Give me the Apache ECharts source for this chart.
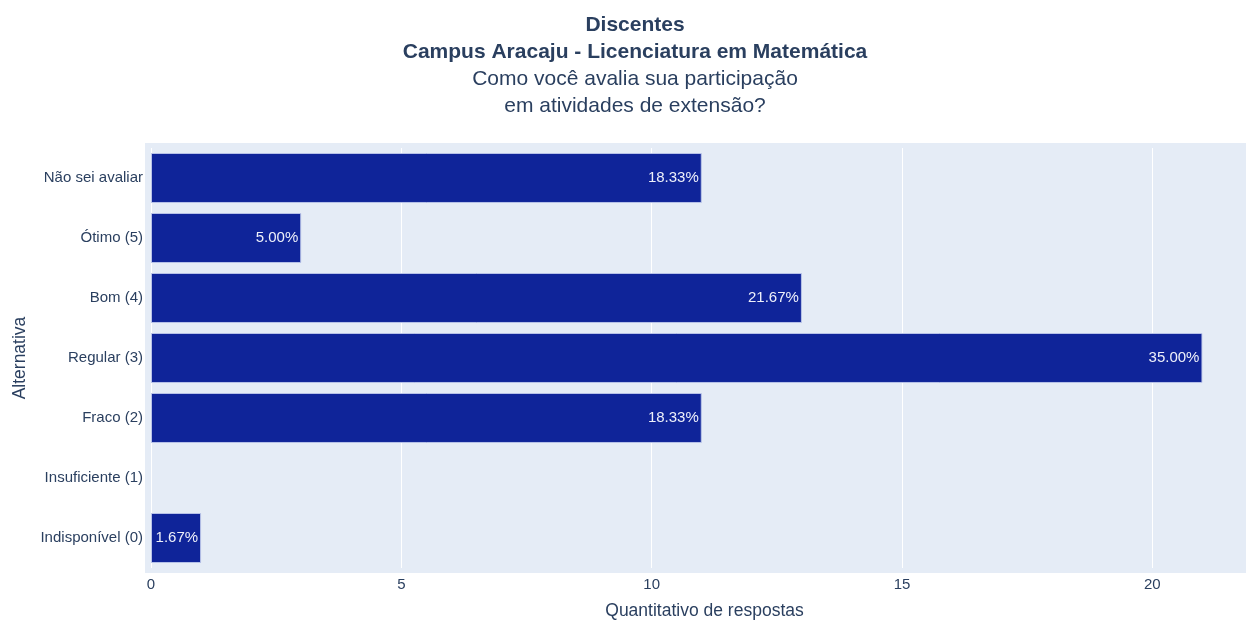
<!DOCTYPE html>
<html>
<head>
<meta charset="utf-8">
<script src="https://cdn.jsdelivr.net/npm/echarts@6/dist/echarts.min.js"></script>
<style>
  html, body { margin: 0; padding: 0; background: #fff; }
  #chart { width: 1247px; height: 622px; }
</style>
</head>
<body>
<div id="chart"></div>
<script>
// categories top -> bottom
const categories = ['Não sei avaliar', 'Ótimo (5)', 'Bom (4)', 'Regular (3)', 'Fraco (2)', 'Insuficiente (1)', 'Indisponível (0)'];
const counts = [11, 3, 13, 21, 11, 0, 1];
const pctLabels = ['18.33%', '5.00%', '21.67%', '35.00%', '18.33%', '', '1.67%'];
const xTicks = [0, 5, 10, 15, 20];

const FONT = 'Arial, "Liberation Sans", sans-serif';
const INK = '#2a3f5f';

const chart = echarts.init(document.getElementById('chart'), null, { renderer: 'canvas' });

chart.setOption({
  backgroundColor: '#fff',
  animation: false,
  textStyle: { fontFamily: FONT },
  title: {
    left: 630,
    top: 7,
    textAlign: 'center',
    text: '{b|Discentes}\n{b|Campus Aracaju - Licenciatura em Matemática}\n{n|Como você avalia sua participação}\n{n|em atividades de extensão?}',
    textStyle: {
      rich: {
        b: { fontFamily: FONT, fontSize: 21, fontWeight: 'bold', color: INK, lineHeight: 27 },
        n: { fontFamily: FONT, fontSize: 21, fontWeight: 'normal', color: INK, lineHeight: 27 },
      },
    },
  },
  grid: [
    // plot background (slightly larger than the bar area, as in the original)
    { left: 145, right: 1, top: 143, bottom: 49, show: true, backgroundColor: '#e5ecf6', borderWidth: 0, outerBoundsMode: 'none' },
    { left: 145, right: 1, top: 148, bottom: 54, show: false, outerBoundsMode: 'none' },
  ],
  xAxis: [
    { gridIndex: 0, type: 'value', show: false, min: 0, max: 1 },
    {
      gridIndex: 1,
      type: 'value',
      min: -0.12, max: 21.87,
      name: 'Quantitativo de respostas',
      nameLocation: 'middle',
      nameGap: 34,
      nameTextStyle: { color: INK, fontSize: 17.5, fontFamily: FONT, padding: [0, 0, 0, 18] },
      axisLine: { show: false },
      axisTick: { show: false, customValues: xTicks },
      axisLabel: { customValues: xTicks, color: INK, fontSize: 15, margin: 9, fontFamily: FONT },
      splitLine: { lineStyle: { color: '#ffffff', width: 1 } },
    },
  ],
  yAxis: [
    { gridIndex: 0, type: 'value', show: false, min: 0, max: 1 },
    {
      gridIndex: 1,
      type: 'category',
      data: categories,
      inverse: true,
      name: 'Alternativa',
      nameLocation: 'middle',
      nameGap: 114,
      nameTextStyle: { color: INK, fontSize: 17.5, fontFamily: FONT },
      axisLine: { show: false },
      axisTick: { show: false },
      axisLabel: { color: INK, fontSize: 15, margin: 2, fontFamily: FONT },
      splitLine: { show: false },
    },
  ],
  series: [{
    type: 'bar',
    xAxisIndex: 1,
    yAxisIndex: 1,
    data: counts.map(v => (v === 0 ? { value: v, itemStyle: { borderWidth: 0 } } : v)),
    barCategoryGap: '16.7%',
    itemStyle: { color: '#0f2499', borderColor: 'rgba(190,200,235,0.9)', borderWidth: 1 },
    label: {
      show: true,
      position: 'insideRight',
      distance: 3,
      color: '#eef0fa',
      fontSize: 15,
      fontFamily: FONT,
      formatter: p => pctLabels[p.dataIndex],
    },
  }],
});
</script>
</body>
</html>
